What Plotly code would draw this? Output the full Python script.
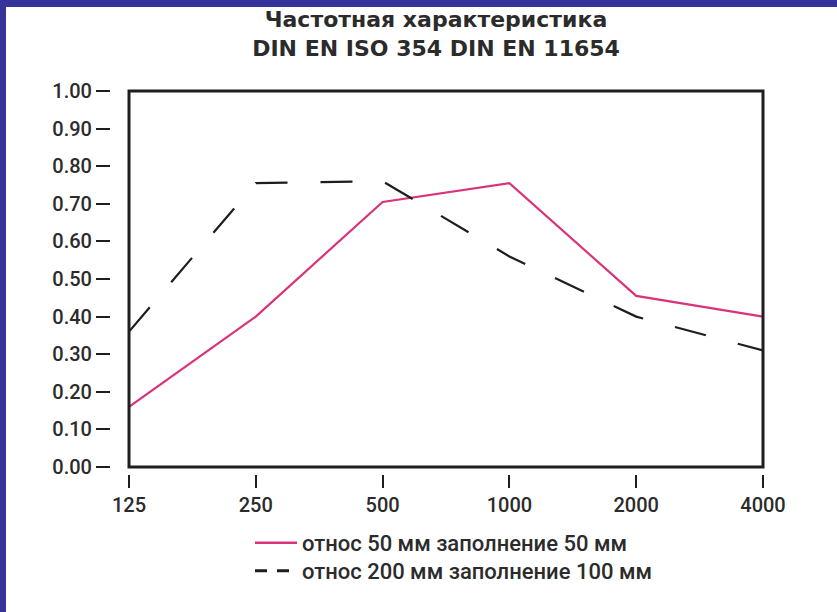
import numpy as np
import plotly.graph_objects as go

W, H = 837, 612

BLUE = "#35349b"
PINK = "#d9337a"
INK = "#1e1e1e"
TXT = "#2b2b2b"
FONT = "Roboto, 'DejaVu Sans', sans-serif"
TITLE_FONT = "'DejaVu Sans', Roboto, sans-serif"

# ── data ─────────────────────────────────────────────────────────────
freqs = [125, 250, 500, 1000, 2000, 4000]
freq_labels = ["125", "250", "500", "1000", "2000", "4000"]
alpha_50 = [0.16, 0.40, 0.705, 0.755, 0.455, 0.40]
alpha_200 = [0.36, 0.755, 0.76, 0.56, 0.40, 0.31]
y_ticks = [0.0, 0.1, 0.2, 0.3, 0.4, 0.5, 0.6, 0.7, 0.8, 0.9, 1.0]
name_50 = "относ 50 мм заполнение 50 мм"
name_200 = "относ 200 мм заполнение 100 мм"
title_lines = ["Частотная характеристика", "DIN EN ISO 354 DIN EN 11654"]


def px_x(x):
    return x / W


def px_y(y):
    return (H - y) / H


fig = go.Figure()

# curves (legend drawn by the dummy entries below)
fig.add_trace(go.Scatter(
    x=freqs, y=alpha_50, mode="lines", showlegend=False,
    line=dict(color=PINK, width=2.2),
))
fig.add_trace(go.Scatter(
    x=freqs, y=alpha_200, mode="lines", showlegend=False,
    line=dict(color=INK, width=2.2, dash="32px,33px"),
))

# legend entries, one legend per row so the row spacing can be set
fig.add_trace(go.Scatter(
    x=[None], y=[None], mode="lines", name=name_50, legend="legend",
    line=dict(color=PINK, width=2.5),
))
fig.add_trace(go.Scatter(
    x=[None], y=[None], mode="lines", name=name_200, legend="legend2",
    line=dict(color=INK, width=3, dash="12px,10px"),
))

# white sheet on the blue page: leaves a blue strip top and left
fig.add_shape(type="rect", xref="paper", yref="paper",
              x0=px_x(6), x1=1.02, y0=-0.02, y1=px_y(7),
              line=dict(width=0), fillcolor="white", layer="below")

# frame around the plotting area
fig.add_shape(type="rect", xref="x domain", yref="y domain",
              x0=0, x1=1, y0=0, y1=1, line=dict(color=INK, width=3),
              layer="above")

legend_style = dict(
    x=px_x(250), xanchor="left", yanchor="middle",
    bgcolor="rgba(0,0,0,0)", borderwidth=0, itemwidth=42,
    font=dict(family=FONT, size=22, color=TXT, weight=500),
)

fig.update_layout(
    width=W, height=H, autosize=False,
    margin=dict(l=0, r=0, t=0, b=0, autoexpand=False),
    paper_bgcolor=BLUE, plot_bgcolor="white",
    font=dict(family=FONT, color=TXT, size=20, weight=500),
    title=dict(
        text="<br>".join(title_lines),
        x=px_x(436), xanchor="center", xref="paper",
        y=px_y(27), yanchor="middle", yref="container",
        font=dict(family=TITLE_FONT, size=22, color=TXT, weight="bold"),
        automargin=False,
    ),
    xaxis=dict(
        type="log", range=[np.log10(freqs[0]), np.log10(freqs[-1])],
        domain=[px_x(129), px_x(763)],
        anchor="free", position=px_y(474), automargin=False,
        tickvals=freqs, ticktext=freq_labels,
        ticks="outside", ticklen=13, tickwidth=2, tickcolor=INK,
        showgrid=False, zeroline=False, showline=False,
        tickfont=dict(family=FONT, size=20, color=TXT, weight=500),
    ),
    yaxis=dict(
        range=[0, 1],
        domain=[px_y(467), px_y(91)],
        anchor="free", position=px_x(110), automargin=False,
        tickvals=y_ticks, ticktext=[f"{v:.2f}" for v in y_ticks],
        ticks="outside", ticklen=14, tickwidth=2, tickcolor=INK,
        showgrid=False, zeroline=False, showline=False,
        tickfont=dict(family=FONT, size=20, color=TXT, weight=500),
    ),
    legend=dict(y=px_y(543), **legend_style),
    legend2=dict(y=px_y(571), **legend_style),
)

# pin the figure to the top-left corner of the page, without scrolling
page_fix = (
    "document.body.style.margin = '0';"
    "document.documentElement.style.overflow = 'hidden';"
    "document.body.style.overflow = 'hidden';"
    "window.scrollTo(0, 0);"
)
fig.write_html("out.html", config={"displayModeBar": False},
               post_script=page_fix)
